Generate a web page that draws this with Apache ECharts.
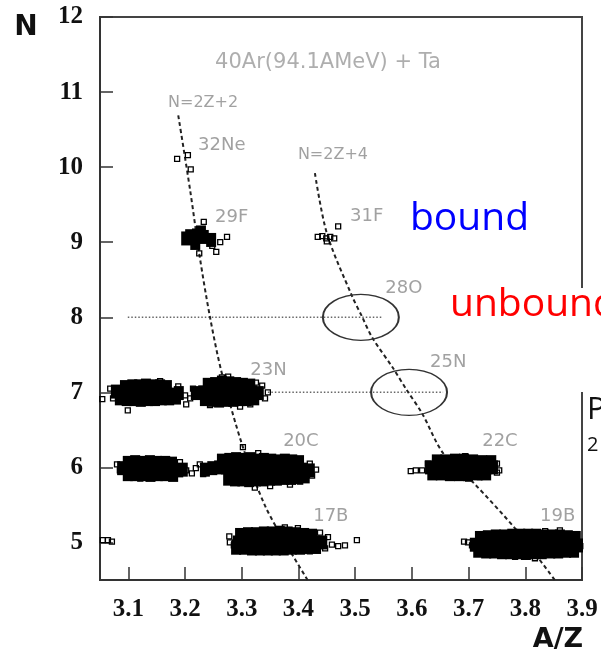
<!DOCTYPE html>
<html>
<head>
<meta charset="utf-8">
<script src="https://cdn.jsdelivr.net/npm/echarts@6.0.0/dist/echarts.min.js"></script>
<style>
  html, body { margin: 0; padding: 0; background: #fff; overflow: hidden; }
  #main { width: 601px; height: 653px; }
</style>
</head>
<body>
<div id="main"></div>
<script>
// Axis ticks (A/Z horizontally, Z vertically)
const xTicks = [3.1, 3.2, 3.3, 3.4, 3.5, 3.6, 3.7, 3.8, 3.9];
const yTicks = [5, 6, 7, 8, 9, 10, 11, 12];

// Dense cores of the identified groups: [A/Z, Z]
const core29F = [[3.209,9.08],[3.221,9.09],[3.233,9.07],[3.246,9.03],[3.218,8.99],[3.202,9.05],[3.228,9.13]];
const core7Left = [[3.078,7.01],[3.091,6.99],[3.103,7.00],[3.115,7.01],[3.128,6.99],[3.140,7.00],[3.152,7.01],[3.165,6.99],[3.177,6.97],[3.189,6.99],
                   [3.094,7.07],[3.107,7.08],[3.119,7.08],[3.131,7.09],[3.144,7.08],[3.156,7.08],[3.168,7.07],
                   [3.085,6.92],[3.097,6.91],[3.110,6.91],[3.122,6.90],[3.135,6.91],[3.147,6.91],[3.159,6.92],[3.172,6.92],[3.184,6.93]];
const core23N = [[3.219,6.99],[3.232,7.00],[3.244,7.01],[3.256,7.03],[3.269,7.04],[3.281,7.03],[3.293,7.01],[3.306,7.00],[3.318,7.00],[3.330,6.99],
                 [3.240,7.10],[3.253,7.11],[3.265,7.13],[3.278,7.12],[3.290,7.11],[3.302,7.10],[3.315,7.09],
                 [3.235,6.91],[3.248,6.90],[3.260,6.89],[3.272,6.90],[3.285,6.90],[3.297,6.91],[3.309,6.91],[3.322,6.92]];
const core6Left = [[3.089,5.99],[3.101,6.00],[3.113,5.99],[3.126,5.97],[3.138,5.99],[3.151,6.00],[3.163,5.97],[3.175,5.96],[3.188,5.96],[3.196,5.97],
                   [3.099,6.06],[3.112,6.07],[3.125,6.06],[3.138,6.07],[3.151,6.06],[3.165,6.06],[3.177,6.05],
                   [3.099,5.91],[3.112,5.91],[3.126,5.91],[3.139,5.90],[3.152,5.91],[3.165,5.91],[3.179,5.90]];
const core20C = [[3.235,5.97],[3.248,5.99],[3.260,6.00],[3.272,6.00],[3.285,5.99],[3.297,5.99],[3.309,5.97],[3.322,5.97],[3.334,5.97],[3.346,5.97],
                 [3.359,5.97],[3.371,5.97],[3.383,5.97],[3.395,5.97],[3.408,5.97],[3.420,5.96],
                 [3.265,6.09],[3.278,6.10],[3.290,6.11],[3.302,6.10],[3.315,6.11],[3.327,6.09],[3.339,6.10],[3.352,6.09],[3.364,6.08],[3.376,6.09],[3.389,6.08],[3.401,6.07],
                 [3.276,5.85],[3.288,5.84],[3.301,5.84],[3.313,5.83],[3.325,5.84],[3.338,5.84],[3.350,5.85],[3.362,5.85],[3.375,5.86],[3.387,5.86],[3.399,5.87],[3.411,5.88]];
const core22C = [[3.632,6.00],[3.644,6.01],[3.657,6.01],[3.669,6.01],[3.681,6.00],[3.694,6.00],[3.706,5.99],[3.718,5.99],[3.731,5.99],[3.743,6.00],
                 [3.644,6.08],[3.659,6.08],[3.676,6.09],[3.692,6.09],[3.708,6.08],[3.724,6.07],[3.740,6.07],
                 [3.636,5.92],[3.651,5.92],[3.667,5.91],[3.683,5.91],[3.699,5.91],[3.715,5.92],[3.731,5.92]];
const core17B = [[3.293,5.00],[3.306,5.01],[3.318,5.01],[3.330,5.03],[3.343,5.03],[3.355,5.03],[3.367,5.03],[3.380,5.03],[3.392,5.01],[3.404,5.01],
                 [3.417,5.01],[3.429,5.00],[3.442,5.00],
                 [3.297,5.10],[3.311,5.11],[3.325,5.11],[3.339,5.12],[3.353,5.12],[3.367,5.13],[3.381,5.12],[3.395,5.11],[3.410,5.10],[3.424,5.09],
                 [3.290,4.93],[3.304,4.93],[3.318,4.92],[3.332,4.92],[3.346,4.92],[3.360,4.92],[3.374,4.92],[3.388,4.93],[3.403,4.93],[3.417,4.94],[3.431,4.94]];
const core19B = [[3.711,4.97],[3.724,4.99],[3.736,4.97],[3.748,4.96],[3.761,4.97],[3.773,4.99],[3.785,4.97],[3.798,4.96],[3.810,4.97],[3.822,4.99],
                 [3.835,4.97],[3.847,4.96],[3.860,4.97],[3.872,4.99],[3.884,4.97],[3.893,4.96],
                 [3.720,5.06],[3.734,5.07],[3.748,5.08],[3.763,5.08],[3.777,5.09],[3.791,5.09],[3.805,5.09],[3.819,5.09],[3.833,5.08],[3.847,5.08],[3.861,5.08],[3.875,5.07],[3.889,5.06],
                 [3.717,4.89],[3.731,4.88],[3.745,4.88],[3.759,4.87],[3.773,4.87],[3.787,4.87],[3.801,4.86],[3.815,4.87],[3.829,4.87],[3.844,4.88],[3.858,4.88],[3.872,4.89],[3.886,4.89]];

// Individual events around the cores: [A/Z, Z]
const events32Ne = [[3.186,10.11],[3.205,10.16],[3.210,9.97]];
const events29F = [[3.233,9.27],[3.274,9.07],[3.255,8.87],[3.225,8.85],[3.202,9.03],[3.262,9.00],[3.248,8.95]];
const events31F = [[3.434,9.07],[3.442,9.08],[3.449,9.05],[3.456,9.07],[3.463,9.05],[3.450,9.01],[3.470,9.21]];
const events7 = [[3.054,6.91],[3.068,7.05],[3.073,6.92],[3.099,6.76],[3.121,6.87],[3.142,7.12],[3.156,7.15],[3.173,6.89],[3.188,7.08],[3.200,6.96],
                 [3.202,6.84],[3.209,6.92],[3.214,7.05],[3.336,7.09],[3.341,6.92],[3.346,7.00],[3.265,7.20],[3.276,7.21],[3.244,6.83],[3.297,6.81],
                 [3.315,6.84],[3.325,7.13]];
const events6Left = [[3.080,6.04],[3.085,5.96],[3.202,5.96],[3.212,5.92],[3.191,6.07],[3.161,6.08],[3.121,5.85],[3.138,5.87],[3.173,5.88],[3.099,6.11],[3.129,6.11]];
const events20C = [[3.219,5.99],[3.226,6.04],[3.232,5.91],[3.302,6.27],[3.265,6.13],[3.329,6.19],[3.420,6.05],[3.431,5.97],[3.424,5.89],[3.385,5.77],
                   [3.350,5.75],[3.323,5.73],[3.403,5.81]];
const events22C = [[3.598,5.95],[3.607,5.96],[3.618,5.96],[3.628,6.05],[3.653,6.11],[3.694,6.15],[3.711,6.11],[3.738,6.08],[3.750,6.05],[3.754,5.96],
                   [3.720,5.87],[3.699,5.85],[3.676,5.87],[3.750,5.93]];
const events17B = [[3.278,5.08],[3.279,5.00],[3.286,4.96],[3.376,5.20],[3.399,5.19],[3.438,5.13],[3.452,5.07],[3.459,4.97],[3.470,4.95],[3.482,4.96],
                   [3.503,5.03],[3.447,4.92],[3.420,4.88],[3.332,4.88],[3.315,4.91]];
const events19B = [[3.692,5.01],[3.699,5.00],[3.706,4.96],[3.717,5.07],[3.888,5.07],[3.897,4.95],[3.875,4.85],[3.817,4.79],[3.782,4.81],[3.861,5.16],[3.835,5.15]];
const events5Left = [[3.055,5.03],[3.064,5.03],[3.071,5.01]];

// Isotope lines N = 2Z+2 and N = 2Z+4
const line2Z2 = [[3.188,10.69],[3.209,9.69],[3.226,8.80],[3.244,8.00],[3.265,7.25],[3.302,6.27],[3.341,5.49],[3.385,4.89],[3.416,4.50]];
const line2Z4 = [[3.429,9.92],[3.450,9.12],[3.494,8.29],[3.512,8.01],[3.530,7.73],[3.567,7.32],[3.591,7.03],[3.618,6.72],[3.655,6.19],[3.708,5.80],[3.785,5.16],[3.852,4.50]];

// Expected positions of the missing nuclei
const missing28O = [[3.099,8],[3.549,8]];
const missing25N = [[3.346,7],[3.655,7]];
const missingCentres = [[3.510,8.0],[3.595,7.0]];

// Text annotations inside the plot
const nuclideNames = ['32Ne','29F','31F','28O','25N','23N','20C','22C','17B','19B'];
const nuclideAnchors = [[3.223,10.29],[3.253,9.33],[3.491,9.35],[3.553,8.39],[3.632,7.40],[3.315,7.29],[3.373,6.35],[3.724,6.35],[3.426,5.35],[3.826,5.35]];
const lineNames = ['N=2Z+2','N=2Z+4'];
const lineAnchors = [[3.170,10.85],[3.399,10.16]];
const reactionText = '40Ar(94.1AMeV) + Ta';
const reactionAnchor = [3.253,11.39];

const cores = [].concat(core29F, core7Left, core23N, core6Left, core20C, core22C, core17B, core19B);
const events = [].concat(events32Ne, events29F, events31F, events7, events6Left, events20C, events22C, events17B, events19B, events5Left);

function textPoints(names, anchors) {
  return names.map((n, i) => ({ name: n, value: anchors[i] }));
}
function textSeries(names, anchors, size, color) {
  return {
    type: 'scatter', symbolSize: 0, silent: true, z: 6,
    data: textPoints(names, anchors),
    label: {
      show: true, position: [0, 0], formatter: '{b}',
      align: 'left', verticalAlign: 'middle',
      fontFamily: 'DejaVu Sans', fontSize: size, color: color
    }
  };
}

const chart = echarts.init(document.getElementById('main'), null, { renderer: 'canvas' });
chart.setOption({
  animation: false,
  backgroundColor: '#fff',
  grid: { left: 100, top: 17, width: 482, height: 563, show: true, borderColor: '#444', borderWidth: 2, backgroundColor: 'transparent' },
  xAxis: {
    type: 'value', min: 3.05, max: 3.9,
    axisLine: { show: true, onZero: false, lineStyle: { color: '#333', width: 2 } },
    axisTick: { show: true, inside: true, length: 13, customValues: xTicks, lineStyle: { color: '#333', width: 1.5 } },
    axisLabel: { customValues: xTicks, formatter: v => v.toFixed(1), fontFamily: 'Liberation Serif', fontWeight: 'bold', fontSize: 25, color: '#111', margin: 17 },
    splitLine: { show: false }
  },
  yAxis: {
    type: 'value', min: 4.5, max: 12,
    axisLine: { show: true, onZero: false, lineStyle: { color: '#333', width: 2 } },
    axisTick: { show: true, inside: true, length: 13, customValues: yTicks, lineStyle: { color: '#333', width: 1.5 } },
    axisLabel: { customValues: yTicks, fontFamily: 'Liberation Serif', fontWeight: 'bold', fontSize: 25, color: '#111', margin: 17 },
    splitLine: { show: false }
  },
  series: [
    { type: 'line', data: missing28O, symbol: 'none', silent: true, lineStyle: { type: [1.5, 2], width: 1.5, color: '#666' }, z: 2 },
    { type: 'line', data: missing25N, symbol: 'none', silent: true, lineStyle: { type: [1.5, 2], width: 1.5, color: '#666' }, z: 2 },
    { type: 'line', data: line2Z2, symbol: 'none', smooth: 0.3, silent: true, lineStyle: { type: [4, 3], width: 2, color: '#222' }, z: 3 },
    { type: 'line', data: line2Z4, symbol: 'none', smooth: 0.3, silent: true, lineStyle: { type: [4, 3], width: 2, color: '#222' }, z: 3 },
    { type: 'scatter', data: missingCentres, symbol: 'circle', symbolSize: [76, 46], silent: true,
      itemStyle: { color: 'rgba(0,0,0,0)', borderColor: '#333', borderWidth: 1.6, opacity: 1 }, z: 3 },
    { type: 'scatter', data: cores, symbol: 'rect', symbolSize: [10, 14], silent: true, itemStyle: { color: '#000', opacity: 1 }, z: 4 },
    { type: 'scatter', data: events, symbol: 'rect', symbolSize: 5, silent: true,
      itemStyle: { color: 'rgba(255,255,255,0)', borderColor: '#000', borderWidth: 1.3, opacity: 1 }, z: 5 },
    textSeries(nuclideNames, nuclideAnchors, 18, '#8a8a8a'),
    textSeries(lineNames, lineAnchors, 16, '#8a8a8a'),
    textSeries([reactionText], [reactionAnchor], 21, '#9a9a9a')
  ],
  graphic: [
    { type: 'text', x: 26, y: 28, z: 10, style: { text: 'N', font: 'bold 28px "DejaVu Sans"', fill: '#111', align: 'center', verticalAlign: 'middle' } },
    { type: 'text', x: 558, y: 640, z: 10, style: { text: 'A/Z', font: 'bold 27px "DejaVu Sans"', fill: '#111', align: 'center', verticalAlign: 'middle' } },
    { type: 'rect', shape: { x: 572, y: 288, width: 29, height: 104 }, z: 9, style: { fill: '#fff' } },
    { type: 'text', x: 410, y: 219, z: 10, style: { text: 'bound', font: '39px "Open Sans"', fill: '#0000ff', align: 'left', verticalAlign: 'middle' } },
    { type: 'text', x: 450, y: 305, z: 10, style: { text: 'unbound', font: '39px "Open Sans"', fill: '#ff0000', align: 'left', verticalAlign: 'middle' } },
    { type: 'text', x: 587, y: 410, z: 10, style: { text: 'P', font: '31px "Open Sans"', fill: '#111', align: 'left', verticalAlign: 'middle' } },
    { type: 'text', x: 587, y: 445, z: 10, style: { text: '2', font: '20px "Open Sans"', fill: '#111', align: 'left', verticalAlign: 'middle' } }
  ]
});
</script>
</body>
</html>
